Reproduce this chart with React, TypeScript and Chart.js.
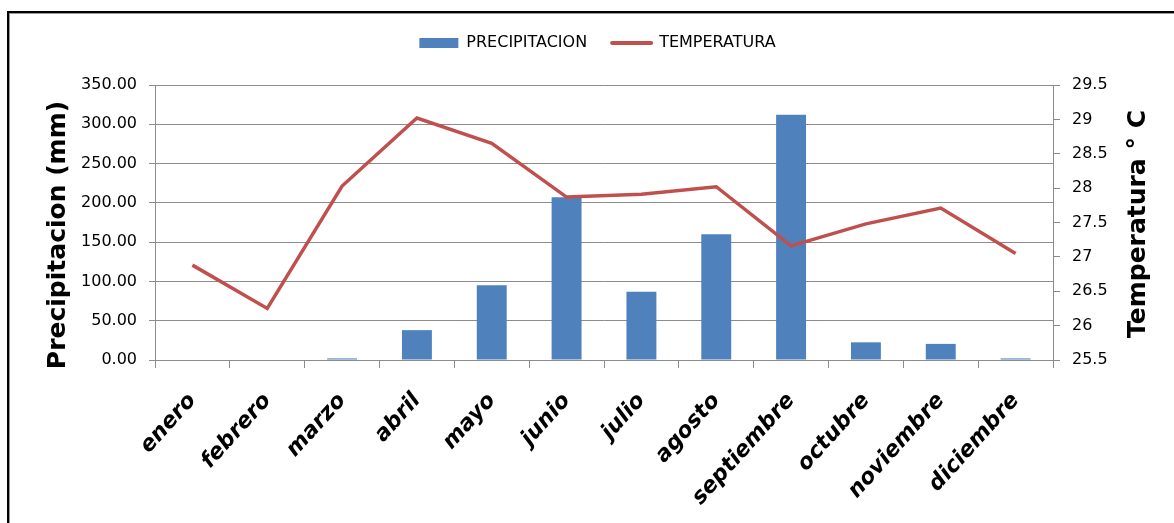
import React, { useEffect, useRef } from "react";
import { Chart, registerables } from "chart.js";

Chart.register(...registerables);

const MONTHS = [
  "enero", "febrero", "marzo", "abril", "mayo", "junio",
  "julio", "agosto", "septiembre", "octubre", "noviembre", "diciembre",
];
const PRECIPITATION = [0, 0, 2, 38, 95, 207, 87, 160, 312, 22.5, 20.5, 2];
const TEMPERATURE = [26.88, 26.25, 28.03, 29.02, 28.65, 27.87, 27.91, 28.02, 27.16, 27.48, 27.71, 27.05];

const PRECIP_LABEL = "PRECIPITACION";
const TEMP_LABEL = "TEMPERATURA";
const LEFT_TITLE = "Precipitacion (mm)";
const RIGHT_TITLE = "Temperatura ° C";

const PRECIP_MIN = 0;
const PRECIP_MAX = 350;
const PRECIP_STEP = 50;
const TEMP_MIN = 25.5;
const TEMP_MAX = 29.5;
const TEMP_STEP = 0.5;

const BAR_COLOR = "#4F81BD";
const LINE_COLOR = "#C0504D";
const GRID_COLOR = "#8C8C8C";
const W = 1174;
const H = 523;

const decorPlugin = {
  id: "decor",
  beforeDraw(chart: any) {
    const ctx = chart.ctx;
    ctx.save();
    ctx.fillStyle = "#ffffff";
    ctx.fillRect(0, 0, chart.width, chart.height);
    ctx.fillStyle = "#000000";
    ctx.fillRect(7, 11, 2, chart.height - 11);
    ctx.fillRect(7, 11, chart.width - 7, 2);
    ctx.fillStyle = "#9a9a9a";
    ctx.fillRect(9, 13, 1, chart.height - 13);
    ctx.fillRect(9, 13, chart.width - 9, 1);
    ctx.restore();
  },
  afterDraw(chart: any) {
    const ctx = chart.ctx;
    ctx.save();
    ctx.fillStyle = "#000000";
    ctx.font = "bold 25px 'DejaVu Sans'";
    ctx.textAlign = "center";
    ctx.textBaseline = "middle";
    ctx.translate(58, 235);
    ctx.rotate(-Math.PI / 2);
    ctx.fillText(LEFT_TITLE, 0, 0);
    ctx.restore();
    ctx.save();
    ctx.fillStyle = "#000000";
    ctx.font = "bold 25px 'DejaVu Sans'";
    ctx.textAlign = "center";
    ctx.textBaseline = "middle";
    ctx.translate(1138, 224);
    ctx.rotate(-Math.PI / 2);
    ctx.fillText(RIGHT_TITLE, 0, 0);
    ctx.restore();
  },
};

export default function App() {
  const ref = useRef<HTMLCanvasElement | null>(null);

  useEffect(() => {
    if (!ref.current) return;
    const tickFont = { family: "'DejaVu Sans'", size: 16 };
    const chart = new Chart(ref.current, {
      type: "bar",
      data: {
        labels: MONTHS,
        datasets: [
          {
            type: "bar",
            label: PRECIP_LABEL,
            data: PRECIPITATION,
            backgroundColor: BAR_COLOR,
            borderWidth: 0,
            yAxisID: "y",
            barPercentage: 0.4,
            categoryPercentage: 1,
            order: 1,
          },
          {
            type: "line",
            label: TEMP_LABEL,
            data: TEMPERATURE,
            borderColor: LINE_COLOR,
            backgroundColor: LINE_COLOR,
            borderWidth: 3.5,
            pointRadius: 0,
            tension: 0,
            yAxisID: "y1",
            order: 0,
          },
        ],
      } as any,
      options: {
        responsive: false,
        animation: false,
        layout: { padding: { left: 21, right: 0, top: 10, bottom: 0 } },
        plugins: {
          tooltip: { enabled: false },
          title: {
            display: true,
            text: "",
            weight: 500,
            padding: 0,
            font: { size: 20, lineHeight: 1.2 },
          } as any,
          legend: {
            position: "top",
            labels: {
              usePointStyle: true,
              pointStyleWidth: 39,
              boxHeight: 10,
              padding: 25,
              color: "#000",
              font: { family: "'DejaVu Sans'", size: 16 },
              generateLabels: () => [
                {
                  text: PRECIP_LABEL,
                  fillStyle: BAR_COLOR,
                  strokeStyle: BAR_COLOR,
                  lineWidth: 0,
                  pointStyle: "rect",
                  datasetIndex: 0,
                  hidden: false,
                  fontColor: "#000",
                },
                {
                  text: TEMP_LABEL,
                  fillStyle: LINE_COLOR,
                  strokeStyle: LINE_COLOR,
                  lineWidth: 4,
                  lineCap: "round",
                  pointStyle: "line",
                  datasetIndex: 1,
                  hidden: false,
                  fontColor: "#000",
                },
              ],
            },
          } as any,
        },
        scales: {
          x: {
            type: "category",
            offset: true,
            grid: {
              display: true,
              drawOnChartArea: false,
              drawTicks: true,
              tickLength: 8,
              color: GRID_COLOR,
              offset: true,
            },
            border: { display: true, color: GRID_COLOR },
            ticks: {
              autoSkip: false,
              minRotation: 48,
              maxRotation: 48,
              padding: 20,
              color: "#000",
              font: { family: "'DejaVu Sans'", size: 22, weight: "bold", style: "italic" },
            },
            afterFit: (s: any) => {
              s.height = H - 360;
            },
          },
          y: {
            position: "left",
            min: PRECIP_MIN,
            max: PRECIP_MAX,
            ticks: {
              stepSize: PRECIP_STEP,
              padding: 12,
              color: "#000",
              font: tickFont,
              callback: (v: any) => Number(v).toFixed(2),
            },
            grid: { color: GRID_COLOR, tickLength: 6, drawTicks: true },
            border: { display: true, color: GRID_COLOR },
            afterFit: (s: any) => {
              s.width = 155 - 21;
            },
          },
          y1: {
            position: "right",
            min: TEMP_MIN,
            max: TEMP_MAX,
            ticks: {
              stepSize: TEMP_STEP,
              padding: 12,
              color: "#000",
              font: tickFont,
              callback: (v: any) => String(v),
            },
            grid: { drawOnChartArea: false, color: GRID_COLOR, tickLength: 7, drawTicks: true },
            border: { display: true, color: GRID_COLOR },
            afterFit: (s: any) => {
              s.width = W - 1053;
            },
          },
        },
      } as any,
      plugins: [decorPlugin],
    });
    return () => chart.destroy();
  }, []);

  return (
    <div style={{ position: "fixed", left: 0, top: 0, width: W, height: H, background: "#fff" }}>
      <canvas ref={ref} width={W} height={H} style={{ display: "block" }} />
    </div>
  );
}
